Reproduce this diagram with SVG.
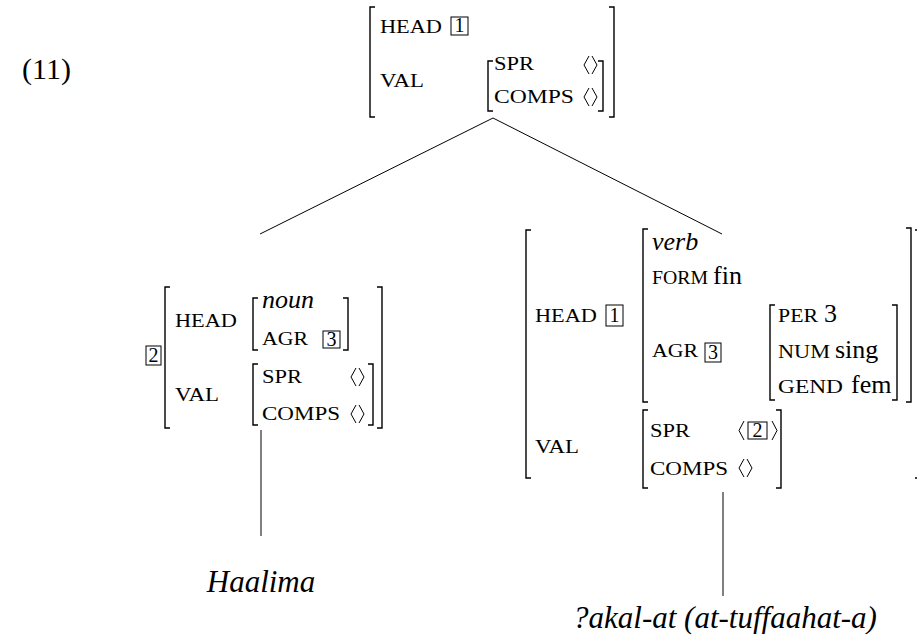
<svg xmlns="http://www.w3.org/2000/svg" width="917" height="634" viewBox="0 0 917 634" font-family="Liberation Serif, serif">
<style>
text{fill:#000}
.f{font-size:19.5px}
.r{font-size:26px}
.i{font-size:26px;font-style:italic}
.w{font-size:31px;font-style:italic}
.d{font-size:20px;text-anchor:middle}
.br{fill:none;stroke:#000;stroke-width:1.4}
.ab{fill:none;stroke:#000;stroke-width:1}
.bx{fill:none;stroke:#000;stroke-width:1}
.ln{stroke:#000;stroke-width:1;fill:none}
</style>
<rect width="917" height="634" fill="#fff"/>
<text x="22" y="79" font-size="30">(11)</text>

<g id="node-top">
<path class="br" d="M375,7H370V117H375M609,7H614V117H609"/>
<text class="f" x="380" y="33" textLength="62" lengthAdjust="spacingAndGlyphs">HEAD</text>
<rect class="bx" x="451" y="17" width="17" height="18"/><text class="d" x="459.5" y="32">1</text>
<text class="f" x="380" y="87" textLength="44" lengthAdjust="spacingAndGlyphs">VAL</text>
<path class="br" d="M493,61H488V111H493M598,61H603V111H598"/>
<text class="f" x="494" y="70" textLength="40" lengthAdjust="spacingAndGlyphs">SPR</text>
<path class="ab" d="M589,56L584,65L589,74M592,56L597,65L592,74"/>
<text class="f" x="494" y="103" textLength="80" lengthAdjust="spacingAndGlyphs">COMPS</text>
<path class="ab" d="M589,88L584,97L589,106M592,88L597,97L592,106"/>
</g>

<g id="node-left">
<rect class="bx" x="146" y="346" width="15" height="19"/><text class="d" x="153.5" y="362">2</text>
<path class="br" d="M170,287H165V428H170M377,287H382V428H377"/>
<text class="f" x="175" y="327" textLength="62" lengthAdjust="spacingAndGlyphs">HEAD</text>
<path class="br" d="M258,298H253V350H258M343,298H348V350H343"/>
<text class="i" x="262" y="308">noun</text>
<text class="f" x="262" y="345" textLength="46" lengthAdjust="spacingAndGlyphs">AGR</text>
<rect class="bx" x="323" y="331" width="17" height="17"/><text class="d" x="331.5" y="346">3</text>
<text class="f" x="175" y="401" textLength="44" lengthAdjust="spacingAndGlyphs">VAL</text>
<path class="br" d="M258,364H253V425H258M368,364H373V425H368"/>
<text class="f" x="262" y="383" textLength="40" lengthAdjust="spacingAndGlyphs">SPR</text>
<path class="ab" d="M356,368L351,377L356,386M359,368L364,377L359,386"/>
<text class="f" x="262" y="420" textLength="78" lengthAdjust="spacingAndGlyphs">COMPS</text>
<path class="ab" d="M356,405L351,414L356,423M359,405L364,414L359,423"/>
</g>

<g id="node-right">
<path class="br" d="M531,230H526V478H531M915,230H920V478H915"/>
<text class="f" x="535" y="322" textLength="62" lengthAdjust="spacingAndGlyphs">HEAD</text>
<rect class="bx" x="606" y="305" width="17" height="21"/><text class="d" x="614.5" y="322">1</text>
<path class="br" d="M648,229H643V402H648M906,228H911V402H906"/>
<text class="i" x="652" y="250">verb</text>
<text class="f" x="652" y="284" textLength="56" lengthAdjust="spacingAndGlyphs">FORM</text>
<text class="r" x="713" y="284">fin</text>
<text class="f" x="652" y="357" textLength="46" lengthAdjust="spacingAndGlyphs">AGR</text>
<rect class="bx" x="705" y="343" width="16" height="19"/><text class="d" x="713" y="359">3</text>
<path class="br" d="M775,305H770V400H775M892,305H897V400H892"/>
<text class="f" x="778" y="322" textLength="40" lengthAdjust="spacingAndGlyphs">PER</text>
<text class="r" x="824" y="322">3</text>
<text class="f" x="778" y="358" textLength="52" lengthAdjust="spacingAndGlyphs">NUM</text>
<text class="r" x="835" y="358">sing</text>
<text class="f" x="778" y="393" textLength="65" lengthAdjust="spacingAndGlyphs">GEND</text>
<text class="r" x="851" y="393">fem</text>
<text class="f" x="535" y="453" textLength="44" lengthAdjust="spacingAndGlyphs">VAL</text>
<path class="br" d="M648,410H643V488H648M776,410H781V488H776"/>
<text class="f" x="650" y="437" textLength="40" lengthAdjust="spacingAndGlyphs">SPR</text>
<path class="ab" d="M744,421L739,430.5L744,440M772,421L777,430.5L772,440"/>
<rect class="bx" x="748" y="422" width="19" height="17"/><text class="d" x="757.5" y="437">2</text>
<text class="f" x="650" y="475" textLength="78" lengthAdjust="spacingAndGlyphs">COMPS</text>
<path class="ab" d="M744,459L739,468L744,477M747,459L752,468L747,477"/>
</g>

<g id="connectors">
<line class="ln" x1="493" y1="118" x2="260" y2="234"/>
<line class="ln" x1="493" y1="118" x2="722" y2="234"/>
<line class="ln" x1="261" y1="430" x2="261" y2="536"/>
<line class="ln" x1="723" y1="492" x2="723" y2="596"/>
</g>

<g id="leaf-left"><text class="w" x="261" y="592" text-anchor="middle">Haalima</text></g>
<g id="leaf-right"><text class="w" x="725" y="628" text-anchor="middle">?akal-at (at-tuffaahat-a)</text></g>
</svg>
